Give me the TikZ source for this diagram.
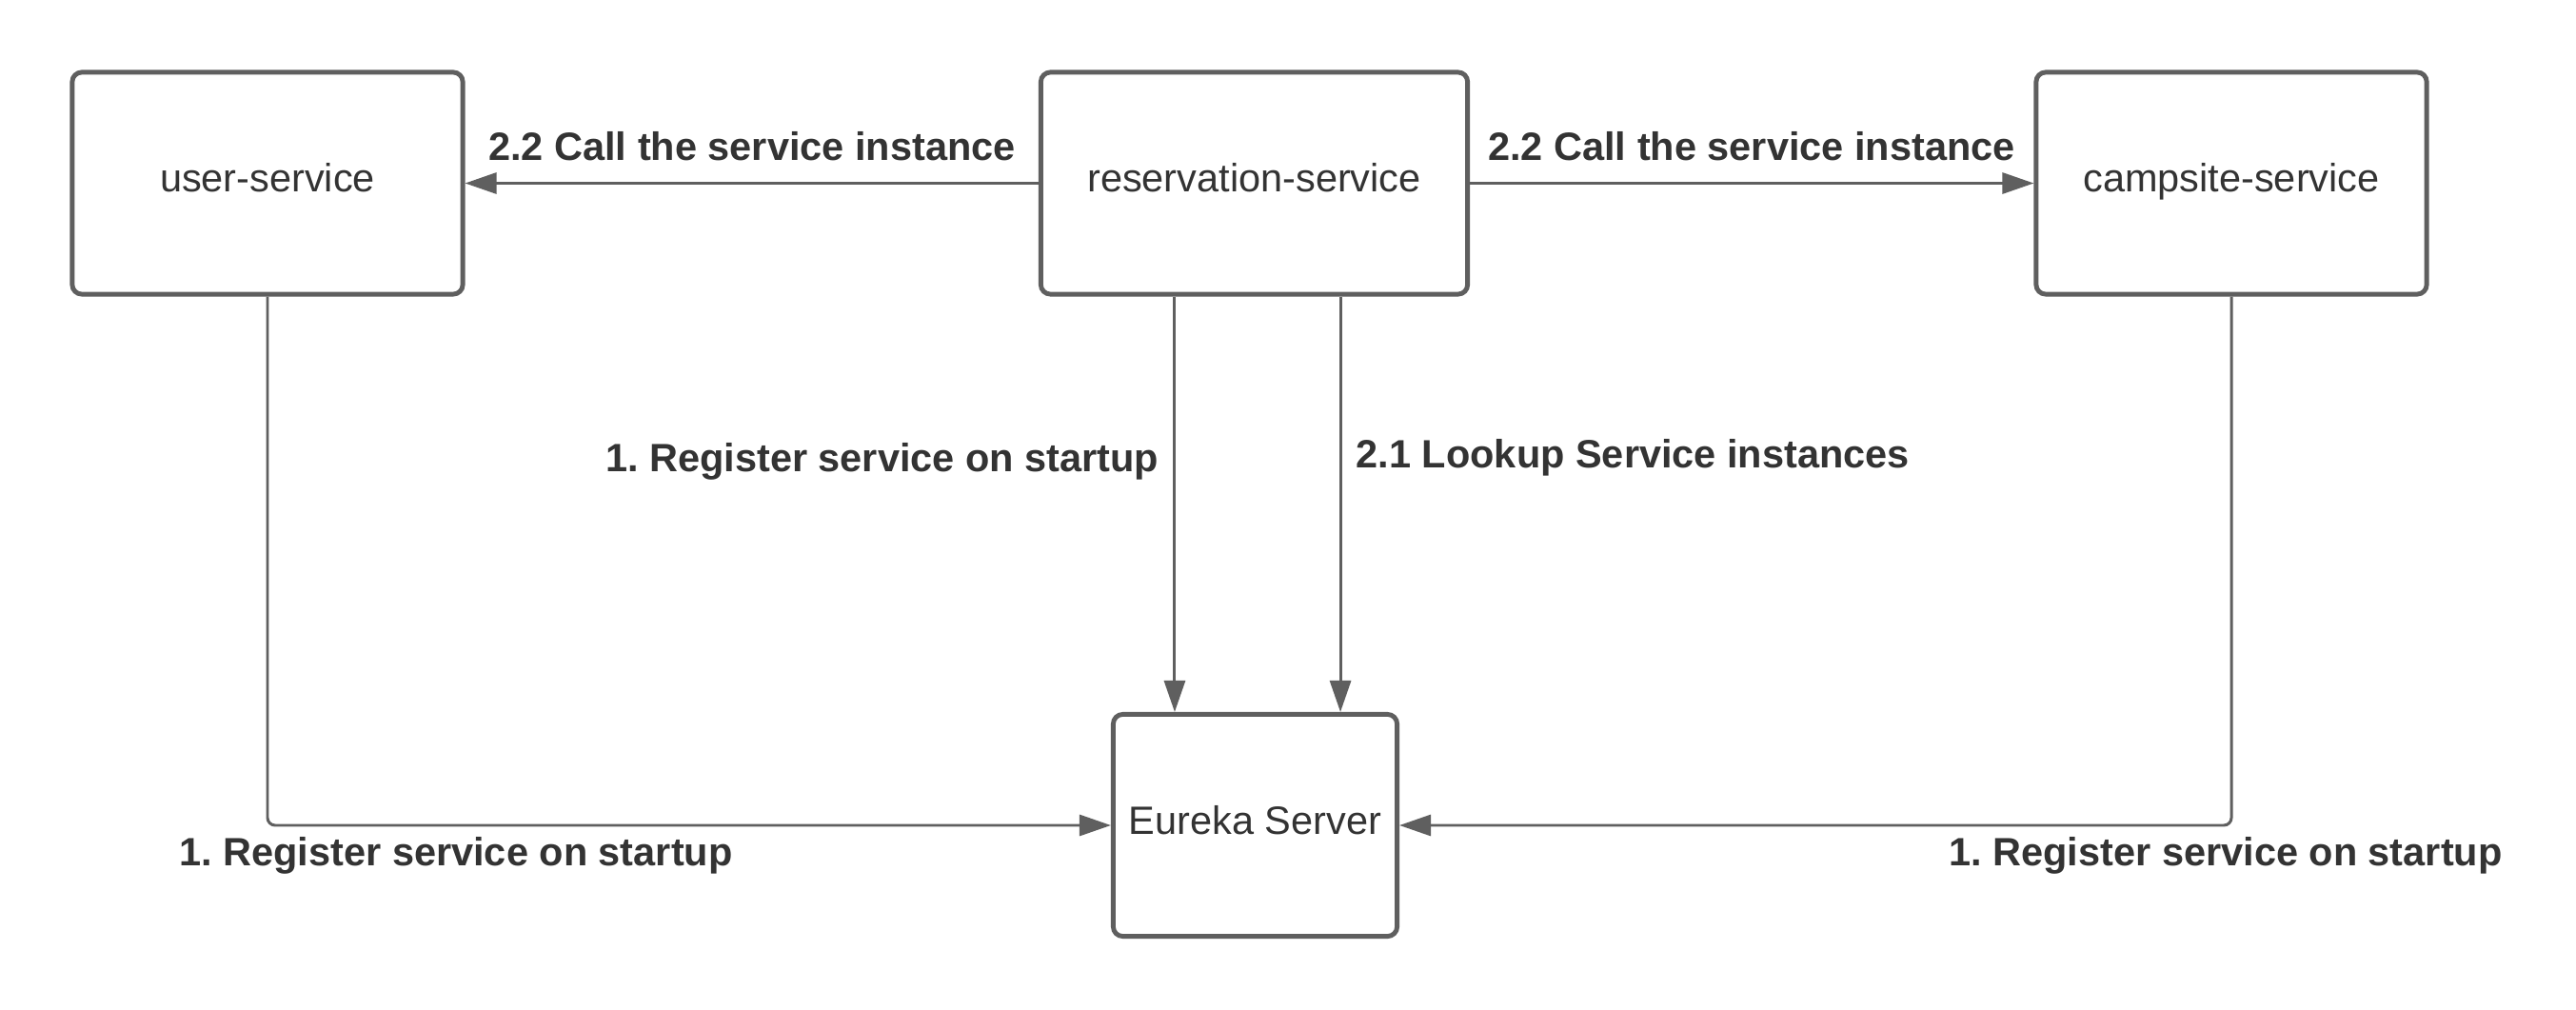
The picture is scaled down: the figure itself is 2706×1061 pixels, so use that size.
\documentclass[tikz,border=0pt]{standalone}
\usepackage{fontspec}
\setmainfont{Liberation Sans}
\usetikzlibrary{arrows.meta}
\definecolor{linec}{HTML}{5F5F5F}
\definecolor{textc}{HTML}{333333}
\frenchspacing
\begin{document}
\begin{tikzpicture}[x=0.01cm,y=-0.01cm,
  box/.style={draw=linec, line width=1.4pt, rounded corners=0.1cm, fill=white, text=textc,
    font=\fontsize{11.8}{14}\selectfont, inner sep=0, minimum height=2.33cm,
    text height=0.28cm, text depth=0.1cm},
  conn/.style={draw=linec, line width=0.85pt, -{Triangle[length=0.33cm,width=0.22cm]}, rounded corners=0.08cm},
  lbl/.style={text=textc, font=\fontsize{11.8}{14}\selectfont\bfseries\frenchspacing, inner sep=0}]
\fill[white] (0,0) rectangle (2706,1061);
\useasboundingbox (0,0) rectangle (2706,1061);
\node[box, minimum width=4.1cm] (user) at (281,192.5) {user-service};
\node[box, minimum width=4.48cm] (res) at (1317.5,192.5) {reservation-service};
\node[box, minimum width=4.1cm] (camp) at (2344,192.5) {campsite-service};
\node[box, minimum width=2.98cm] (eur) at (1318.5,867) {Eureka Server};
\draw[conn] (res.west) -- (user.east);
\draw[conn] (res.east) -- (camp.west);
\draw[conn] ([xshift=-0.835cm]res.south) -- ([xshift=-0.835cm]res.south |- eur.north);
\draw[conn] ([xshift=0.905cm]res.south) -- ([xshift=0.905cm]res.south |- eur.north);
\draw[conn] (user.south) |- (eur.west);
\draw[conn] (camp.south) |- (eur.east);
\node[lbl] (l1) at (790,154) {2.2 Call the service instance};
\node[lbl] (l2) at (1840,154) {2.2 Call the service instance};
\node[lbl, anchor=east] (l3) at (1218,485) {1. Register service on startup};
\node[lbl, anchor=west] (l4) at (1424,481) {2.1 Lookup Service instances};
\node[lbl] (l5) at (479,899) {1. Register service on startup};
\node[lbl] (l6) at (2338,899) {1. Register service on startup};
\end{tikzpicture}
\end{document}
